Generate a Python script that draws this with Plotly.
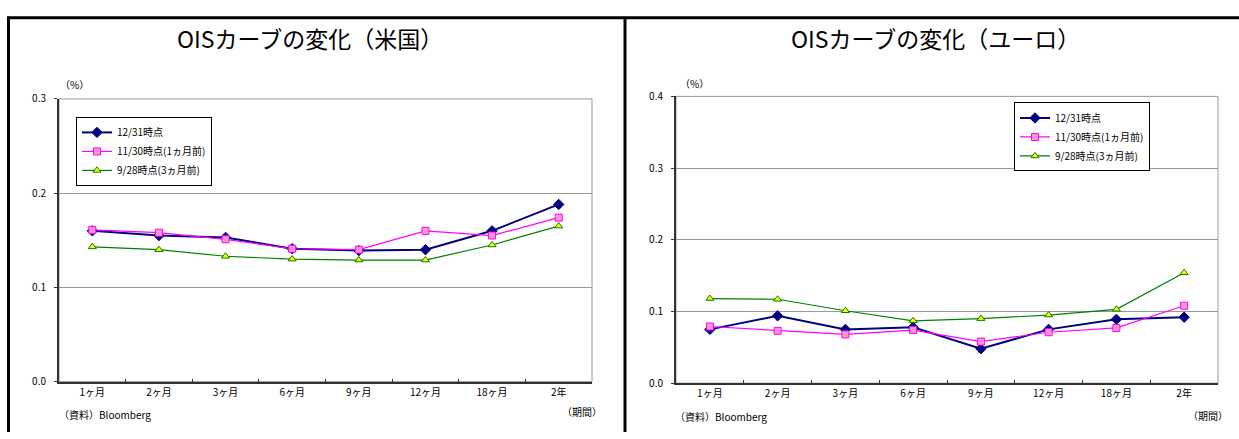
import plotly.graph_objects as go

# Tenors on the horizontal axis
tenors = ["1ヶ月", "2ヶ月", "3ヶ月", "6ヶ月", "9ヶ月", "12ヶ月", "18ヶ月", "2年"]

# Series labels
label_1231 = "12/31時点"
label_1130 = "11/30時点(1ヵ月前)"
label_0928 = "9/28時点(3ヵ月前)"

# US OIS curve (%)
us_1231 = [0.160, 0.155, 0.153, 0.141, 0.139, 0.140, 0.160, 0.188]
us_1130 = [0.161, 0.158, 0.151, 0.141, 0.140, 0.160, 0.155, 0.174]
us_0928 = [0.143, 0.140, 0.133, 0.130, 0.129, 0.129, 0.145, 0.165]

# Euro OIS curve (%)
eu_1231 = [0.075, 0.094, 0.075, 0.078, 0.048, 0.075, 0.089, 0.092]
eu_1130 = [0.079, 0.073, 0.068, 0.074, 0.058, 0.071, 0.077, 0.108]
eu_0928 = [0.118, 0.117, 0.101, 0.087, 0.090, 0.095, 0.103, 0.154]

W, H = 1239, 439
FONT = "Noto Sans CJK JP"


def px(x):
    return x / W


def py(y):
    return (H - y) / H


styles = [
    dict(name=label_1231, line=dict(color="#000080", width=2),
         marker=dict(symbol="diamond", size=8, color="#000080",
                     line=dict(color="#000080", width=1))),
    dict(name=label_1130, line=dict(color="#FF00FF", width=1.2),
         marker=dict(symbol="square", size=7, color="#FF99CC",
                     line=dict(color="#FF00FF", width=1))),
    dict(name=label_0928, line=dict(color="#008000", width=1.2),
         marker=dict(symbol="triangle-up", size=7, color="#FFFF00",
                     line=dict(color="#008000", width=1))),
]

fig = go.Figure()

for series, st in zip([us_1231, us_1130, us_0928], styles):
    fig.add_trace(go.Scatter(x=tenors, y=series, mode="lines+markers",
                             xaxis="x", yaxis="y", legend="legend", **st))
for series, st in zip([eu_1231, eu_1130, eu_0928], styles):
    fig.add_trace(go.Scatter(x=tenors, y=series, mode="lines+markers",
                             xaxis="x2", yaxis="y2", legend="legend2", **st))

tick_font = dict(family=FONT, size=10, color="#000000")

xcommon = dict(type="category", tickson="boundaries", ticks="inside", ticklen=3,
               tickcolor="#333333", showline=True, linecolor="#333333", linewidth=2,
               showgrid=False, zeroline=False, tickfont=tick_font,
               range=[-0.5, 7.5], fixedrange=True)
ycommon = dict(ticks="outside", ticklen=3, tickcolor="#333333", showline=True,
               linecolor="#333333", linewidth=2, showgrid=True, gridcolor="#999999",
               gridwidth=1, zeroline=False, tickformat=".1f", dtick=0.1,
               tickfont=tick_font, ticklabelstandoff=6, fixedrange=True)

legend_common = dict(bgcolor="#FFFFFF", bordercolor="#000000", borderwidth=1,
                     font=dict(family=FONT, size=10, color="#000000"),
                     xanchor="left", yanchor="top", tracegroupgap=0,
                     entrywidth=120, entrywidthmode="pixels")

fig.update_layout(
    width=W, height=H,
    margin=dict(l=0, r=0, t=0, b=0),
    paper_bgcolor="#FFFFFF", plot_bgcolor="#FFFFFF",
    font=dict(family=FONT, color="#000000"),
    xaxis=dict(domain=[px(59), px(592)], anchor="y", **xcommon),
    yaxis=dict(domain=[py(386.7), py(93.3)], anchor="x", range=[0, 0.3], **ycommon),
    xaxis2=dict(domain=[px(676), px(1218)], anchor="y2", **xcommon),
    yaxis2=dict(domain=[py(388.3), py(90.7)], anchor="x2", range=[0, 0.4], **ycommon),
    legend=dict(x=px(76), y=py(112), **legend_common),
    legend2=dict(x=px(1014), y=py(97), **legend_common),
    showlegend=True,
)

# Plot-area frames (grey top and right edges)
for xr, yr in [("x domain", "y domain"), ("x2 domain", "y2 domain")]:
    fig.add_shape(type="rect", xref=xr, yref=yr, x0=0, x1=1, y0=0, y1=1,
                  line=dict(color="#999999", width=1), layer="below")

# Panel frame lines
frame = dict(color="#000000", width=3)
fig.add_shape(type="line", xref="paper", yref="paper", x0=px(7), x1=1, y0=py(9), y1=py(9), line=frame)
fig.add_shape(type="line", xref="paper", yref="paper", x0=px(8.5), x1=px(8.5), y0=py(8), y1=0, line=frame)
fig.add_shape(type="line", xref="paper", yref="paper", x0=px(625), x1=px(625), y0=py(8), y1=0, line=frame)

small = dict(family=FONT, size=10, color="#000000")
title_font = dict(family=FONT, size=23, color="#000000")
texts = [
    ("OISカーブの変化（米国）", 310, 30, title_font, "center"),
    ("OISカーブの変化（ユーロ）", 935, 30, title_font, "center"),
    ("（%）", 74, 78, small, "center"),
    ("（%）", 694, 77, small, "center"),
    ("（資料）Bloomberg", 57, 421, small, "left"),
    ("（資料）Bloomberg", 673, 423, small, "left"),
    ("（期間）", 604, 418, small, "right"),
    ("（期間）", 1230, 422, small, "right"),
]
for text, x, y, font, anchor in texts:
    fig.add_annotation(text=text, xref="paper", yref="paper", x=px(x), y=py(y),
                       xanchor=anchor, yanchor="middle", showarrow=False, font=font)

fig.write_html("out.html")
